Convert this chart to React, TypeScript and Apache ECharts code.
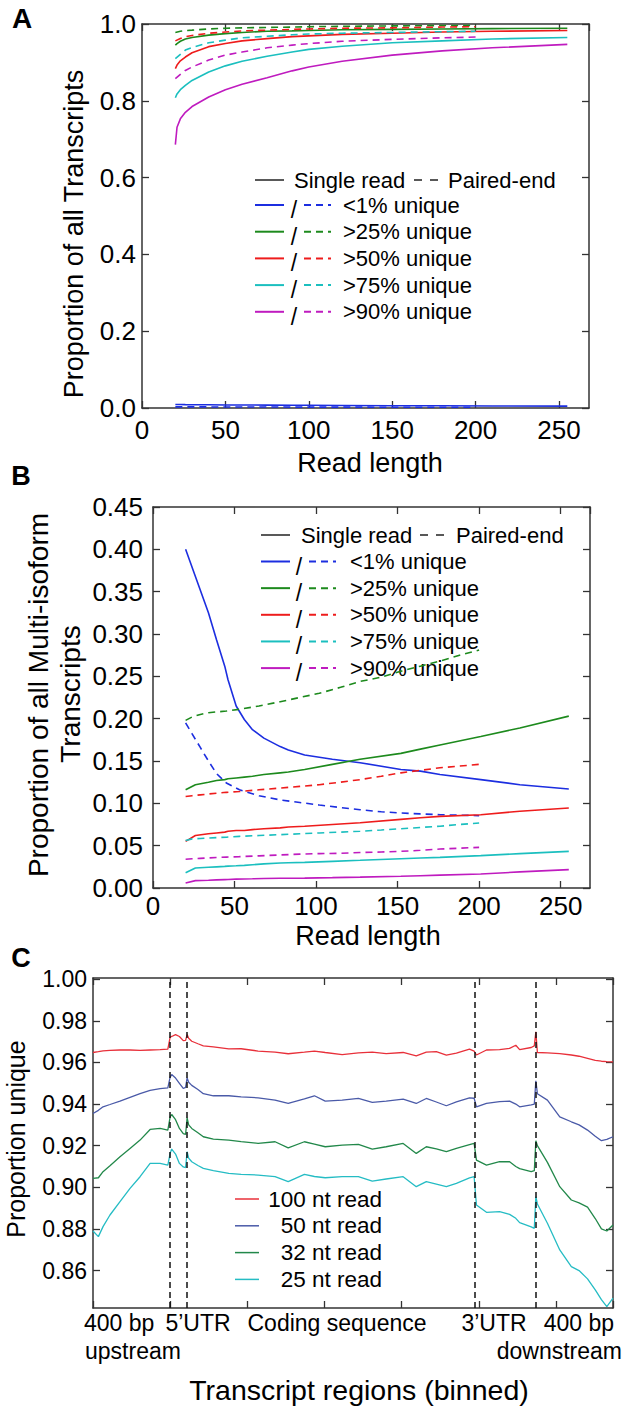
import React, { useEffect, useRef } from 'react';
import * as echarts from 'echarts';

const FONT = "'Liberation Sans', Arial, sans-serif";

// ---------- shared legend / groups ----------
const groupNames = ['<1% unique', '>25% unique', '>50% unique', '>75% unique', '>90% unique'];
const groupColors = ['#1c2ee0', '#1d8a1d', '#ee1c1c', '#1bbfbf', '#bf1bbf'];

// ---------- Panel A : proportion of all transcripts ----------
const readLenSingleA = [20, 21, 23, 26, 30, 40, 50, 60, 75, 90, 100, 120, 150, 180, 210, 255];
const singleA_lt1 = [0.009, 0.009, 0.009, 0.0088, 0.0086, 0.0083, 0.008, 0.0078, 0.0075, 0.0072, 0.007, 0.0066, 0.006, 0.0057, 0.0054, 0.005];
const singleA_gt25 = [0.945, 0.949, 0.955, 0.961, 0.965, 0.971, 0.975, 0.978, 0.981, 0.982, 0.983, 0.985, 0.986, 0.987, 0.988, 0.989];
const singleA_gt50 = [0.884, 0.893, 0.904, 0.914, 0.925, 0.941, 0.949, 0.956, 0.962, 0.967, 0.969, 0.973, 0.976, 0.979, 0.981, 0.983];
const singleA_gt75 = [0.808, 0.818, 0.829, 0.84, 0.853, 0.875, 0.891, 0.903, 0.916, 0.927, 0.934, 0.942, 0.951, 0.956, 0.961, 0.965];
const singleA_gt90 = [0.686, 0.731, 0.753, 0.77, 0.785, 0.81, 0.829, 0.843, 0.86, 0.878, 0.888, 0.903, 0.919, 0.93, 0.938, 0.947];

const readLenPairedA = [20, 23, 26, 30, 40, 50, 60, 75, 90, 100, 120, 150, 180, 200];
const pairedA_lt1 = [0.003, 0.003, 0.003, 0.003, 0.0028, 0.0027, 0.0026, 0.0025, 0.0024, 0.0023, 0.0022, 0.0021, 0.002, 0.002];
const pairedA_gt25 = [0.978, 0.981, 0.983, 0.984, 0.987, 0.989, 0.99, 0.991, 0.992, 0.993, 0.994, 0.995, 0.996, 0.996];
const pairedA_gt50 = [0.956, 0.962, 0.967, 0.97, 0.976, 0.979, 0.982, 0.984, 0.986, 0.987, 0.989, 0.99, 0.992, 0.993];
const pairedA_gt75 = [0.91, 0.921, 0.932, 0.939, 0.951, 0.958, 0.964, 0.968, 0.972, 0.974, 0.976, 0.978, 0.98, 0.981];
const pairedA_gt90 = [0.858, 0.869, 0.879, 0.888, 0.906, 0.919, 0.927, 0.938, 0.945, 0.949, 0.955, 0.96, 0.964, 0.966];

// ---------- Panel B : proportion of multi-isoform transcripts ----------
const readLenSingleB = [20, 26, 34, 39, 44, 46, 51, 56, 61, 68, 78, 83, 93, 110, 127, 152, 164, 176, 201, 225, 255];
const singleB_lt1 = [0.4, 0.368, 0.325, 0.293, 0.262, 0.246, 0.215, 0.199, 0.187, 0.177, 0.167, 0.163, 0.157, 0.152, 0.148, 0.14, 0.138, 0.134, 0.128, 0.122, 0.117];
const singleB_gt25 = [0.116, 0.122, 0.125, 0.127, 0.128, 0.129, 0.13, 0.131, 0.132, 0.134, 0.136, 0.137, 0.14, 0.146, 0.152, 0.159, 0.164, 0.169, 0.179, 0.189, 0.203];
const singleB_gt50 = [0.055, 0.062, 0.064, 0.065, 0.066, 0.067, 0.068, 0.068, 0.069, 0.07, 0.071, 0.072, 0.073, 0.075, 0.077, 0.081, 0.083, 0.0846, 0.0866, 0.0906, 0.0945];
const singleB_gt75 = [0.018, 0.0236, 0.0245, 0.025, 0.0255, 0.0258, 0.0262, 0.0267, 0.0275, 0.0285, 0.0295, 0.0298, 0.0303, 0.0315, 0.0327, 0.0346, 0.0354, 0.0362, 0.0382, 0.0406, 0.0433];
const singleB_gt90 = [0.006, 0.0087, 0.0092, 0.0096, 0.0099, 0.01, 0.0105, 0.0107, 0.0109, 0.0112, 0.0115, 0.0116, 0.0117, 0.0122, 0.0128, 0.0138, 0.0145, 0.0152, 0.0165, 0.019, 0.0217];

const readLenPairedB = [20, 24, 29, 34, 39, 45, 53, 65, 78, 90, 102, 115, 127, 140, 152, 164, 176, 188, 200];
const pairedB_lt1 = [0.195, 0.182, 0.166, 0.15, 0.135, 0.124, 0.116, 0.109, 0.104, 0.101, 0.098, 0.095, 0.0925, 0.09, 0.0886, 0.0875, 0.0866, 0.086, 0.0854];
const pairedB_gt25 = [0.198, 0.202, 0.205, 0.207, 0.208, 0.209, 0.211, 0.215, 0.22, 0.225, 0.23, 0.237, 0.244, 0.249, 0.256, 0.262, 0.268, 0.275, 0.281];
const pairedB_gt50 = [0.108, 0.109, 0.11, 0.111, 0.112, 0.113, 0.114, 0.116, 0.118, 0.12, 0.122, 0.125, 0.128, 0.132, 0.136, 0.139, 0.142, 0.144, 0.146];
const pairedB_gt75 = [0.056, 0.058, 0.0585, 0.059, 0.0595, 0.06, 0.061, 0.062, 0.063, 0.064, 0.065, 0.066, 0.067, 0.0685, 0.07, 0.0715, 0.073, 0.075, 0.0768];
const pairedB_gt90 = [0.034, 0.0345, 0.035, 0.0355, 0.036, 0.0365, 0.037, 0.038, 0.039, 0.04, 0.0406, 0.041, 0.042, 0.0425, 0.0433, 0.0445, 0.046, 0.047, 0.048];

// ---------- Panel C : proportion unique along transcript regions ----------
const readNames = ['100 nt read', ' 50 nt read', ' 32 nt read', ' 25 nt read'];
const readColors = ['#e8303a', '#4a5aa8', '#22884a', '#25bcc4'];
const regionBounds = [100, 122, 495, 574];
const cBins = [0, 7, 13, 22, 35, 48, 61, 74, 87, 97, 100, 102, 107, 112, 117, 120, 122, 124, 128, 136, 143, 156, 176, 192, 214, 236, 253, 274, 287, 301, 323, 344, 362, 380, 402, 419, 432, 445, 458, 471, 488, 494, 497, 510, 527, 540, 548, 553, 568, 572, 574, 576, 589, 605, 620, 630, 641, 651, 659, 666, 674];
const uniq100 = [0.9648, 0.9652, 0.9656, 0.9658, 0.966, 0.966, 0.9658, 0.966, 0.9662, 0.9664,
  0.9722, 0.9725, 0.9734, 0.9725, 0.9705, 0.9706, 0.9734, 0.9716, 0.9702, 0.969,
  0.968, 0.9675, 0.9665, 0.9666, 0.9655, 0.965, 0.9642, 0.965, 0.9655, 0.9648,
  0.9638, 0.9646, 0.965, 0.9643, 0.9648, 0.9632, 0.965, 0.9652, 0.9635, 0.9645,
  0.9664, 0.9655, 0.9636, 0.966, 0.9662, 0.9668, 0.9683, 0.9662, 0.9672, 0.968,
  0.9747, 0.9648, 0.9646, 0.9643, 0.9636, 0.963, 0.962, 0.961, 0.9606, 0.9604, 0.9603];
const uniq50 = [0.9355, 0.937, 0.9387, 0.9398, 0.9414, 0.9432, 0.945, 0.9466, 0.9474, 0.9478,
  0.953, 0.9542, 0.9525, 0.95, 0.9475, 0.948, 0.9526, 0.9505, 0.949, 0.947,
  0.945, 0.944, 0.944, 0.9435, 0.943, 0.9419, 0.9403, 0.9425, 0.944, 0.9414,
  0.9419, 0.9427, 0.9408, 0.9414, 0.9424, 0.9403, 0.9427, 0.941, 0.9392, 0.9411,
  0.943, 0.9428, 0.9387, 0.9403, 0.9412, 0.9414, 0.94, 0.9387, 0.9396, 0.94,
  0.9512, 0.945, 0.9419, 0.9339, 0.9315, 0.93, 0.9275, 0.9245, 0.9224, 0.923, 0.9243];
const uniq32 = [0.9043, 0.9046, 0.9075, 0.9104, 0.9147, 0.9187, 0.9227, 0.9278, 0.9283, 0.9275,
  0.9339, 0.935, 0.9325, 0.9283, 0.9258, 0.9254, 0.9334, 0.93, 0.9283, 0.9262,
  0.9243, 0.9232, 0.9227, 0.922, 0.9211, 0.9219, 0.919, 0.9219, 0.9208, 0.9195,
  0.9203, 0.9206, 0.9184, 0.9195, 0.9211, 0.9163, 0.9195, 0.9185, 0.9171, 0.9187,
  0.9205, 0.9211, 0.9131, 0.9107, 0.9123, 0.9123, 0.91, 0.909, 0.9075, 0.908,
  0.9224, 0.92, 0.912, 0.9003, 0.8939, 0.8925, 0.8905, 0.885, 0.88, 0.879, 0.8819];
const uniq25 = [0.879, 0.8763, 0.8811, 0.8867, 0.8931, 0.8995, 0.9051, 0.9115, 0.9115, 0.9107,
  0.9163, 0.9184, 0.916, 0.9115, 0.9098, 0.9095, 0.9171, 0.914, 0.9123, 0.9105,
  0.9091, 0.908, 0.9067, 0.9062, 0.9059, 0.9051, 0.9027, 0.9062, 0.9052, 0.9046,
  0.9051, 0.9051, 0.903, 0.904, 0.9051, 0.9003, 0.9027, 0.9015, 0.9003, 0.9019,
  0.9045, 0.9051, 0.8915, 0.888, 0.8883, 0.887, 0.8851, 0.883, 0.881, 0.8803,
  0.8955, 0.892, 0.8827, 0.8699, 0.8619, 0.86, 0.856, 0.8507, 0.846, 0.8427, 0.8467];
const cTickValues = [0.86, 0.88, 0.9, 0.92, 0.94, 0.96, 0.98, 1.0];
const cRegionLabels = [
  { text: '400 bp', row: 0, anchor: 'left' },
  { text: 'upstream', row: 1, anchor: 'left' },
  { text: '5’UTR', row: 0, anchor: 'center' },
  { text: 'Coding sequence', row: 0, anchor: 'center' },
  { text: '3’UTR', row: 0, anchor: 'center' },
  { text: '400 bp', row: 0, anchor: 'right' },
  { text: 'downstream', row: 1, anchor: 'right' },
];
const cRegionLabelX = [84, 85, 198, 337, 494, 614, 622];

// ---------- helpers ----------
const AXIS_COLOR = '#333';
const DASH = [7, 5];

function lineSeries(xs: number[], ys: number[], color: string, dashed: boolean, ai: number, width = 1.6, extra: any = {}) {
  return {
    type: 'line',
    xAxisIndex: ai,
    yAxisIndex: ai,
    data: xs.map((x, i) => [x, ys[i]]),
    showSymbol: false,
    symbol: 'none',
    silent: true,
    lineStyle: { color, width, type: dashed ? DASH : 'solid' },
    ...extra,
  };
}

function valueAxis(gridIndex: number, position: string, min: number, max: number, opts: any = {}) {
  const showLabel = opts.showLabel ?? false;
  const ax: any = {
    type: 'value',
    gridIndex,
    position,
    min,
    max,
    splitLine: { show: false },
    axisLine: { show: true, onZero: false, lineStyle: { color: AXIS_COLOR, width: 1.5 } },
    axisTick: { show: true, inside: true, length: 7, lineStyle: { color: AXIS_COLOR, width: 1.3 } },
    axisLabel: {
      show: showLabel,
      color: '#000',
      fontFamily: FONT,
      fontSize: opts.fontSize ?? 26,
      margin: opts.margin ?? 8,
      showMaxLabel: opts.showMaxLabel ?? false,
      showMinLabel: true,
      formatter: opts.formatter,
    },
  };
  if (opts.interval !== undefined) ax.interval = opts.interval;
  if (opts.customValues) {
    ax.axisTick.customValues = opts.customValues;
    ax.axisLabel.customValues = opts.customValues;
    ax.axisLabel.showMaxLabel = true;
  }
  return ax;
}

function txt(x: number, y: number, text: string, fontSize: number, extra: any = {}, style: any = {}) {
  const align = style.align ?? 'left';
  const vAlign = style.verticalAlign ?? 'middle';
  return {
    type: 'text',
    x,
    y,
    silent: true,
    ...extra,
    style: {
      text,
      fill: '#000',
      fontFamily: FONT,
      fontSize,
      fontWeight: style.fontWeight ?? 'normal',
      align,
      verticalAlign: vAlign,
      textAlign: align,
      textVerticalAlign: vAlign,
    },
  };
}

function seg(x1: number, y1: number, x2: number, y2: number, stroke: string, lineWidth = 2, lineDash?: number[]) {
  return {
    type: 'line',
    silent: true,
    shape: { x1, y1, x2, y2 },
    style: { stroke, lineWidth, lineDash: lineDash ?? null },
  };
}

function pairLegend(cfg: any) {
  const els: any[] = [];
  // header
  els.push(seg(cfg.lineX1, cfg.headerY, cfg.lineX2, cfg.headerY, '#222', 1.5));
  els.push(txt(cfg.singleTextX, cfg.headerY, 'Single read', 22));
  els.push(seg(cfg.pdX1, cfg.headerY, cfg.pdX2, cfg.headerY, '#222', 1.5, [8, 8]));
  els.push(txt(cfg.pairedTextX, cfg.headerY, 'Paired-end', 22));
  groupNames.forEach((name, i) => {
    const y = cfg.rowY0 + i * cfg.rowGap;
    els.push(seg(cfg.lineX1, y, cfg.lineX2, y, groupColors[i], 2));
    els.push(txt(cfg.slashX, y + 5, '/', 23, {}, { align: 'center' }));
    els.push(seg(cfg.dashX1, y, cfg.dashX2, y, groupColors[i], 2, [7, 5]));
    els.push(txt(cfg.textX, y, name, 22));
  });
  return els;
}

function buildOption() {
  const series: any[] = [];
  const singleA = [singleA_lt1, singleA_gt25, singleA_gt50, singleA_gt75, singleA_gt90];
  const pairedA = [pairedA_lt1, pairedA_gt25, pairedA_gt50, pairedA_gt75, pairedA_gt90];
  const singleB = [singleB_lt1, singleB_gt25, singleB_gt50, singleB_gt75, singleB_gt90];
  const pairedB = [pairedB_lt1, pairedB_gt25, pairedB_gt50, pairedB_gt75, pairedB_gt90];
  groupColors.forEach((c, i) => {
    series.push(lineSeries(readLenSingleA, singleA[i], c, false, 0));
    series.push(lineSeries(readLenPairedA, pairedA[i], c, true, 0));
    series.push(lineSeries(readLenSingleB, singleB[i], c, false, 2));
    series.push(lineSeries(readLenPairedB, pairedB[i], c, true, 2));
  });
  const uniq = [uniq100, uniq50, uniq32, uniq25];
  uniq.forEach((vals, i) => {
    const extra: any = {};
    if (i === 0) {
      extra.markLine = {
        silent: true,
        symbol: ['none', 'none'],
        label: { show: false },
        lineStyle: { color: '#111', width: 1.5, type: [6, 4] },
        data: regionBounds.map((b) => ({ xAxis: b })),
      };
    }
    series.push(lineSeries(cBins, vals, readColors[i], false, 4, 1.3, extra));
  });

  const fmt1 = (v: number) => v.toFixed(1);
  const fmt2 = (v: number) => v.toFixed(2);
  const fmt0 = (v: number) => String(Math.round(v));

  const xAxis = [
    valueAxis(0, 'bottom', 0, 268, { showLabel: true, interval: 50, formatter: fmt0, margin: 9 }),
    valueAxis(0, 'top', 0, 268, { interval: 50 }),
    valueAxis(1, 'bottom', 0, 268, { showLabel: true, interval: 50, formatter: fmt0, margin: 5 }),
    valueAxis(1, 'top', 0, 268, { interval: 50 }),
    valueAxis(2, 'bottom', 0, 674, { interval: 100 }),
    valueAxis(2, 'top', 0, 674, { interval: 100 }),
  ];
  const yAxis = [
    valueAxis(0, 'left', 0, 1.0, { showLabel: true, interval: 0.2, formatter: fmt1, margin: 6, showMaxLabel: true }),
    valueAxis(0, 'right', 0, 1.0, { interval: 0.2 }),
    valueAxis(1, 'left', 0, 0.45, { showLabel: true, interval: 0.05, formatter: fmt2, margin: 10, showMaxLabel: true }),
    valueAxis(1, 'right', 0, 0.45, { interval: 0.05 }),
    valueAxis(2, 'left', 0.842, 1.0006, { showLabel: true, customValues: cTickValues, formatter: fmt2, margin: 6, fontSize: 23 }),
    valueAxis(2, 'right', 0.842, 1.0006, { customValues: cTickValues }),
  ];

  const graphics: any[] = [];
  // panel letters
  graphics.push(txt(22, 18, 'A', 28, {}, { align: 'center', fontWeight: 'bold' }));
  graphics.push(txt(21, 476, 'B', 27, {}, { align: 'center', fontWeight: 'bold' }));
  graphics.push(txt(21, 958, 'C', 27, {}, { align: 'center', fontWeight: 'bold' }));
  // axis titles
  graphics.push(txt(74, 234, 'Proportion of all Transcripts', 27, { rotation: Math.PI / 2 }, { align: 'center' }));
  graphics.push(txt(370, 463, 'Read length', 27, {}, { align: 'center' }));
  graphics.push(txt(38, 695, 'Proportion of all Multi-isoform', 28, { rotation: Math.PI / 2 }, { align: 'center' }));
  graphics.push(txt(70, 694, 'Transcripts', 28, { rotation: Math.PI / 2 }, { align: 'center' }));
  graphics.push(txt(368, 936, 'Read length', 27, {}, { align: 'center' }));
  graphics.push(txt(16, 1139, 'Proportion unique', 25, { rotation: Math.PI / 2 }, { align: 'center' }));
  graphics.push(txt(359, 1390, 'Transcript regions (binned)', 28.5, {}, { align: 'center' }));
  cRegionLabels.forEach((l, i) => {
    graphics.push(txt(cRegionLabelX[i], l.row === 0 ? 1323 : 1351, l.text, 23, {}, { align: l.anchor }));
  });
  // legends A and B
  graphics.push(...pairLegend({
    headerY: 180, rowY0: 205, rowGap: 26.7,
    lineX1: 255, lineX2: 284, slashX: 294, dashX1: 304, dashX2: 331, textX: 343,
    singleTextX: 294, pdX1: 414, pdX2: 438, pairedTextX: 448,
  }));
  graphics.push(...pairLegend({
    headerY: 535, rowY0: 561.5, rowGap: 26.65,
    lineX1: 261, lineX2: 290, slashX: 299, dashX1: 309, dashX2: 336, textX: 350,
    singleTextX: 301, pdX1: 420, pdX2: 444, pairedTextX: 456,
  }));
  // legend C
  readNames.forEach((n, i) => {
    const y = 1199 + i * 26.8;
    graphics.push(seg(235, y, 259, y, readColors[i], 1.5));
    graphics.push(txt(382, y, n, 22.5, {}, { align: 'right' }));
  });

  return {
    animation: false,
    backgroundColor: '#ffffff',
    textStyle: { fontFamily: FONT },
    grid: [
      { left: 142, top: 24, width: 447, height: 384, containLabel: false },
      { left: 153, top: 507, width: 437, height: 381, containLabel: false },
      { left: 93, top: 978, width: 520, height: 330, containLabel: false },
    ],
    xAxis,
    yAxis,
    series,
    graphic: { elements: graphics },
  };
}

export default function App() {
  const ref = useRef<HTMLDivElement>(null);
  useEffect(() => {
    if (!ref.current) return;
    const chart = echarts.init(ref.current, null, { renderer: 'svg' });
    chart.setOption(buildOption() as any);
    return () => chart.dispose();
  }, []);
  return (
    <div
      ref={ref}
      style={{ position: 'absolute', left: 0, top: 0, width: 624, height: 1412, background: '#fff' }}
    />
  );
}
